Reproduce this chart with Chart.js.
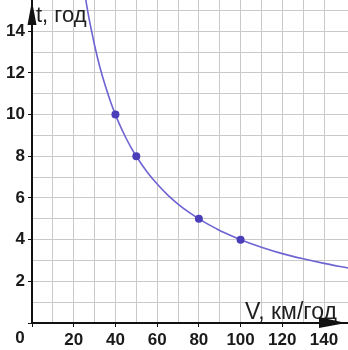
<!DOCTYPE html>
<html>
<head>
<meta charset="utf-8">
<script src="https://cdn.jsdelivr.net/npm/chart.js@4"></script>
<style>
html,body{margin:0;padding:0;background:#fff;}
canvas{display:block;}
</style>
</head>
<body>
<canvas id="c" width="348" height="350"></canvas>
<script>
// Curve t(V)
const curveV = [25.8, 27, 28.5, 30, 32.5, 35, 37.5, 40, 42.5, 45, 47.5, 50, 55, 60, 65, 70, 75, 80, 85, 90, 95, 100, 110, 120, 130, 140, 151.5];
const curveT = [15.5, 14.8, 14.04, 13.33, 12.3, 11.43, 10.67, 10, 9.41, 8.89, 8.42, 8, 7.27, 6.67, 6.15, 5.71, 5.33, 5, 4.71, 4.44, 4.21, 4, 3.64, 3.33, 3.08, 2.86, 2.64];
// Marked points
const pointV = [40, 50, 80, 100];
const pointT = [10, 8, 5, 4];
// Axis labels
const xTitle = 'V, км/год';
const yTitle = 't, год';
const originLabel = '0';
const xLabelStep = 20;
const yLabelStep = 2;

const FONT = '"Liberation Sans", Arial, sans-serif';

const overlay = {
  id: 'overlay',
  afterDraw(chart) {
    const ctx = chart.ctx;
    const x = chart.scales.x, y = chart.scales.y;
    const x0 = x.getPixelForValue(0), y0 = y.getPixelForValue(0);
    ctx.save();
    // titles
    ctx.fillStyle = '#1e1e1e';
    ctx.textBaseline = 'alphabetic';
    ctx.textAlign = 'left';
    ctx.font = '22px ' + FONT;
    ctx.fillText(yTitle, x0 + 4, 22);
    ctx.font = '23px ' + FONT;
    ctx.fillText(xTitle, 245, y0 - 4);
    // origin label
    ctx.font = 'bold 17px ' + FONT;
    ctx.fillStyle = '#1a1a1a';
    ctx.textAlign = 'center';
    ctx.textBaseline = 'top';
    ctx.fillText(originLabel, x0 - 12, y0 + 7);
    // arrows
    ctx.fillStyle = '#111';
    ctx.beginPath();
    ctx.moveTo(x0, 1);
    ctx.lineTo(x0 + 4.5, 25);
    ctx.lineTo(x0 - 4.5, 25);
    ctx.closePath();
    ctx.fill();
    ctx.beginPath();
    ctx.moveTo(346, y0);
    ctx.lineTo(319, y0 - 6);
    ctx.lineTo(319, y0 + 5);
    ctx.closePath();
    ctx.fill();
    ctx.restore();
  }
};

new Chart(document.getElementById('c'), {
  type: 'scatter',
  data: {
    datasets: [
      {
        data: pointV.map((v, i) => ({x: v, y: pointT[i]})),
        showLine: false,
        pointRadius: 4,
        pointHoverRadius: 4,
        pointBackgroundColor: '#4a3fb8',
        pointBorderColor: '#4a3fb8',
        pointBorderWidth: 0,
        order: 0
      },
      {
        data: curveV.map((v, i) => ({x: v, y: curveT[i]})),
        showLine: true,
        borderColor: '#6e63d2',
        borderWidth: 1.6,
        pointRadius: 0,
        pointHoverRadius: 0,
        cubicInterpolationMode: 'monotone',
        fill: false,
        clip: 0,
        order: 1
      }
    ]
  },
  options: {
    responsive: false,
    animation: false,
    devicePixelRatio: 1,
    layout: {padding: 0, autoPadding: false},
    plugins: {legend: {display: false}, tooltip: {enabled: false}},
    scales: {
      x: {
        type: 'linear',
        min: 0, max: 151.5,
        afterFit(s) { s.height = 27; s.paddingLeft = 0; s.paddingRight = 0; },
        border: {color: '#111', width: 2},
        grid: {
          color: (c) => (c.tick && c.tick.value >= 150) ? 'rgba(0,0,0,0)' : '#c9c9c9',
          lineWidth: 1,
          tickLength: 4,
          tickColor: (c) => (c.tick && c.tick.value % xLabelStep === 0) ? '#111' : 'rgba(0,0,0,0)'
        },
        ticks: {
          stepSize: 10,
          includeBounds: false,
          autoSkip: false,
          maxRotation: 0,
          padding: 3,
          color: '#1a1a1a',
          font: {family: FONT, size: 17, weight: 'bold'},
          callback: (v) => (v % xLabelStep === 0 && v !== 0) ? String(v) : ''
        }
      },
      y: {
        type: 'linear',
        min: 0, max: 15.5,
        afterFit(s) { s.width = 32; s.paddingTop = 0; s.paddingBottom = 0; },
        border: {color: '#111', width: 2},
        grid: {
          color: '#c9c9c9', lineWidth: 1,
          tickLength: 4,
          tickColor: (c) => (c.tick && c.tick.value % yLabelStep === 0) ? '#111' : 'rgba(0,0,0,0)'
        },
        ticks: {
          stepSize: 1,
          includeBounds: false,
          autoSkip: false,
          padding: 3,
          color: '#1a1a1a',
          font: {family: FONT, size: 17, weight: 'bold'},
          callback: (v) => (v % yLabelStep === 0 && v !== 0) ? String(v) : ''
        }
      }
    }
  },
  plugins: [overlay]
});
</script>
</body>
</html>
